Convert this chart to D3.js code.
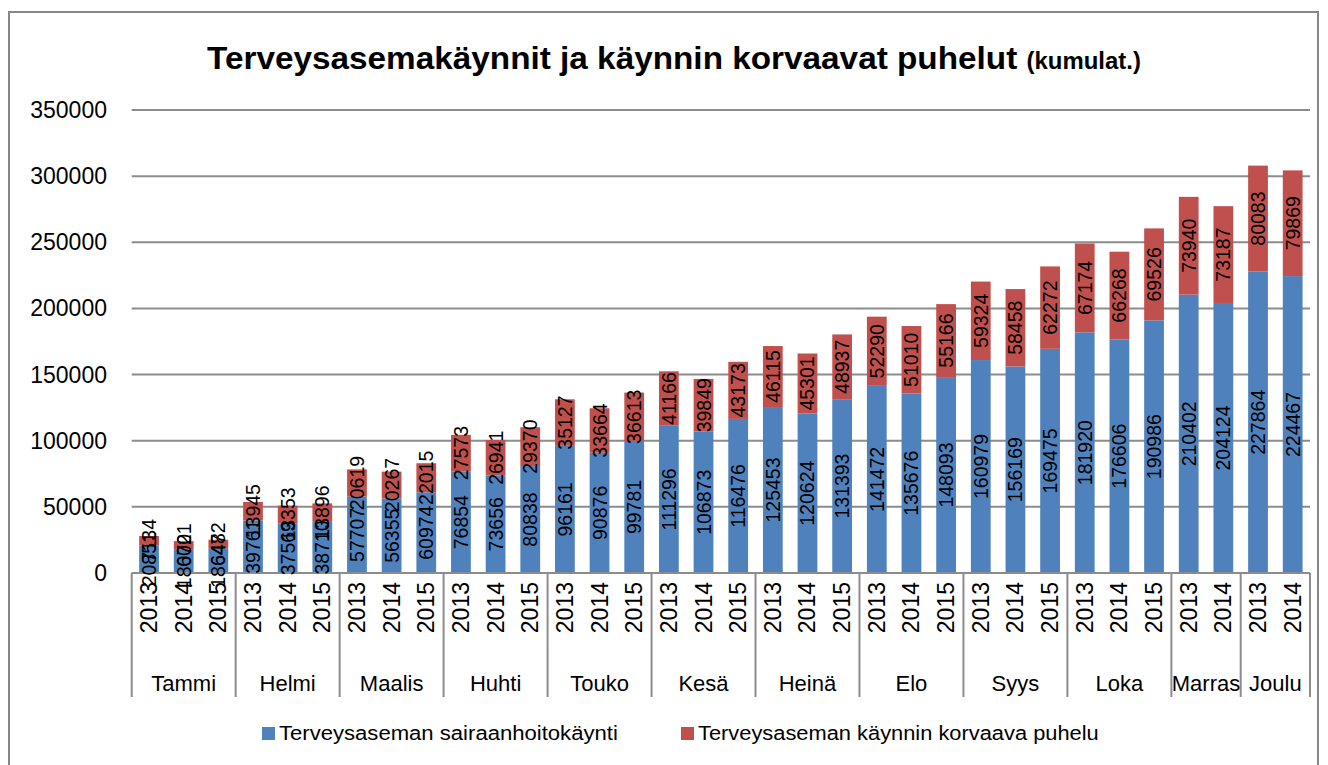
<!DOCTYPE html>
<html>
<head>
<meta charset="utf-8">
<script src="https://cdn.jsdelivr.net/npm/d3@7"></script>
<style>
  body { margin: 0; background: #fff; }
  svg { display: block; font-family: "Liberation Sans", Arial, sans-serif; }
</style>
</head>
<body>
<div id="chart"></div>
<script>
// months and how many years each one has
const months = ["Tammi", "Helmi", "Maalis", "Huhti", "Touko", "Kesä", "Heinä", "Elo", "Syys", "Loka", "Marras", "Joulu"];
const monthYears = [
  ["2013", "2014", "2015"], ["2013", "2014", "2015"], ["2013", "2014", "2015"],
  ["2013", "2014", "2015"], ["2013", "2014", "2015"], ["2013", "2014", "2015"],
  ["2013", "2014", "2015"], ["2013", "2014", "2015"], ["2013", "2014", "2015"],
  ["2013", "2014", "2015"], ["2013", "2014"], ["2013", "2014"]
];
const visits = [
  20851, 18070, 18647,
  39761, 37569, 38710,
  57707, 56355, 60974,
  76854, 73656, 80838,
  96161, 90876, 99781,
  111296, 106873, 116476,
  125453, 120624, 131393,
  141472, 135676, 148093,
  160979, 156169, 169475,
  181920, 176606, 190986,
  210402, 204124,
  227864, 224467
];
const calls = [
  7134, 6021, 6482,
  13945, 13353, 13896,
  20619, 20267, 22015,
  27573, 26941, 29370,
  35127, 33664, 36613,
  41166, 39849, 43173,
  46115, 45301, 48937,
  52290, 51010, 55166,
  59324, 58458, 62272,
  67174, 66268, 69526,
  73940, 73187,
  80083, 79869
];
const yTicks = [0, 50000, 100000, 150000, 200000, 250000, 300000, 350000];
const seriesNames = ["Terveysaseman sairaanhoitokäynti", "Terveysaseman käynnin korvaava puhelu"];
const colors = ["#4F81BD", "#C0504D"];

const W = 1328, H = 765;
const plot = { left: 131.7, right: 1310, top: 110, bottom: 573 };

const svg = d3.select("#chart").append("svg").attr("width", W).attr("height", H);

// outer chart border
svg.append("rect")
  .attr("x", 9).attr("y", 12).attr("width", 1309).attr("height", 780)
  .attr("fill", "none").attr("stroke", "#868686").attr("stroke-width", 2);

// flatten month/year into bar rows
const rows = [];
monthYears.forEach((ys, mi) => ys.forEach(y => rows.push({ month: months[mi], year: y, mi })));
rows.forEach((r, i) => { r.blue = visits[i]; r.red = calls[i]; r.i = i; });

const x = d3.scaleBand()
  .domain(rows.map(r => r.i))
  .range([plot.left, plot.right])
  .paddingInner(0.43)
  .paddingOuter(0.215);

const y = d3.scaleLinear().domain([0, 350000]).range([plot.bottom, plot.top]);

// gridlines
svg.append("g").selectAll("line").data(yTicks.filter(d => d > 0)).join("line")
  .attr("x1", plot.left).attr("x2", plot.right)
  .attr("y1", d => y(d)).attr("y2", d => y(d))
  .attr("stroke", "#8c8c8c").attr("stroke-width", 2);

// y tick labels
svg.append("g").selectAll("text").data(yTicks).join("text")
  .attr("x", 107).attr("y", d => y(d))
  .attr("text-anchor", "end").attr("dominant-baseline", "central")
  .style("font-size", "23px").attr("fill", "#000")
  .text(d => d);

// stacked bars
const bars = svg.append("g");
bars.selectAll("rect.blue").data(rows).join("rect")
  .attr("class", "blue")
  .attr("x", d => x(d.i)).attr("width", x.bandwidth())
  .attr("y", d => y(d.blue)).attr("height", d => y(0) - y(d.blue))
  .attr("fill", colors[0]);
bars.selectAll("rect.red").data(rows).join("rect")
  .attr("class", "red")
  .attr("x", d => x(d.i)).attr("width", x.bandwidth())
  .attr("y", d => y(d.blue + d.red)).attr("height", d => y(d.blue) - y(d.blue + d.red))
  .attr("fill", colors[1]);

// x axis line and group separators
const axisG = svg.append("g").attr("stroke", "#8c8c8c").attr("stroke-width", 2);
axisG.append("line")
  .attr("x1", plot.left).attr("x2", plot.right)
  .attr("y1", plot.bottom).attr("y2", plot.bottom);

const step = x.step();
let cum = 0;
const bounds = [0];
monthYears.forEach(ys => { cum += ys.length; bounds.push(cum); });
axisG.selectAll("line.sep").data(bounds).join("line")
  .attr("class", "sep")
  .attr("x1", b => plot.left + b * step).attr("x2", b => plot.left + b * step)
  .attr("y1", plot.bottom).attr("y2", 697);

// year labels
svg.append("g").selectAll("text").data(rows).join("text")
  .attr("transform", d => `translate(${x(d.i) + x.bandwidth() / 2},582) rotate(-90)`)
  .attr("text-anchor", "end").attr("dominant-baseline", "central")
  .style("font-size", "23px")
  .text(d => d.year);

// month labels
svg.append("g").selectAll("text").data(months).join("text")
  .attr("x", (m, i) => plot.left + (bounds[i] + bounds[i + 1]) / 2 * step)
  .attr("y", 691)
  .attr("text-anchor", "middle")
  .style("font-size", "22px")
  .text(m => m);

// data labels
const labels = svg.append("g").style("font-size", "19.5px");
labels.selectAll("text.bl").data(rows).join("text")
  .attr("transform", d => `translate(${x(d.i) + x.bandwidth() / 2},${y(d.blue / 2)}) rotate(-90)`)
  .attr("text-anchor", "middle").attr("dominant-baseline", "central")
  .text(d => d.blue);
labels.selectAll("text.rl").data(rows).join("text")
  .attr("transform", d => `translate(${x(d.i) + x.bandwidth() / 2},${y(d.blue + d.red / 2)}) rotate(-90)`)
  .attr("text-anchor", "middle").attr("dominant-baseline", "central")
  .text(d => d.red);

// title
const title = svg.append("text")
  .attr("x", 674).attr("y", 69)
  .attr("text-anchor", "middle")
  .style("font-weight", "bold");
title.append("tspan").style("font-size", "32px").text("Terveysasemakäynnit ja käynnin korvaavat puhelut ");
title.append("tspan").style("font-size", "23px").text("(kumulat.)");
const tw = title.node().getComputedTextLength();
title.attr("transform", `translate(674,0) scale(${934 / tw},1) translate(-674,0)`);

// legend
const legendPos = [
  { sx: 262, tx: 279, tw: 339 },
  { sx: 681, tx: 698, tw: 401 }
];
const legend = svg.append("g");
seriesNames.forEach((name, i) => {
  const p = legendPos[i];
  legend.append("rect")
    .attr("x", p.sx).attr("y", 727).attr("width", 13).attr("height", 13)
    .attr("fill", colors[i]);
  const t = legend.append("text")
    .attr("x", 0).attr("y", 0)
    .style("font-size", "20px")
    .text(name);
  const nw = t.node().getComputedTextLength();
  t.attr("transform", `translate(${p.tx},740) scale(${p.tw / nw},1)`);
});
</script>
</body>
</html>
